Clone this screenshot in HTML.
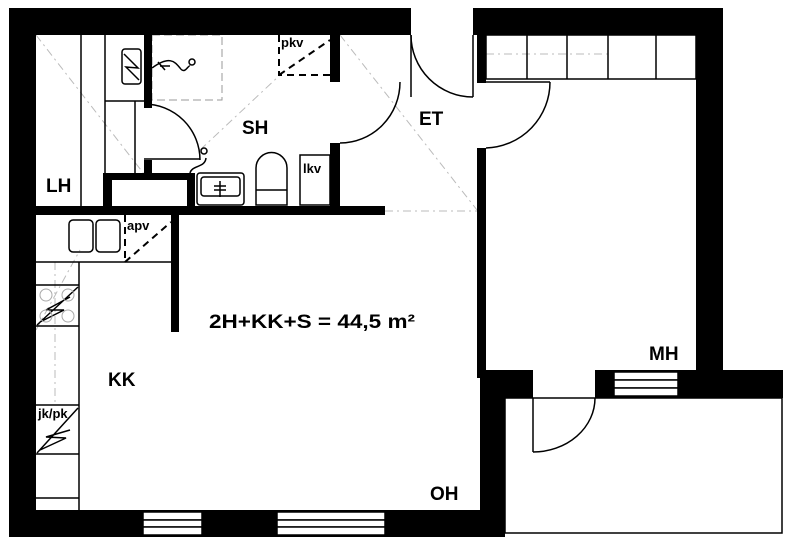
<!DOCTYPE html>
<html><head><meta charset="utf-8"><style>html,body{margin:0;padding:0;background:#fff}svg{display:block}</style></head><body>
<svg width="795" height="545" viewBox="0 0 795 545" xmlns="http://www.w3.org/2000/svg" font-family="Liberation Sans, sans-serif" font-weight="bold">
<rect width="795" height="545" fill="#fff"/>
<!-- light dash lines -->
<g stroke="#bbb" stroke-width="1" stroke-dasharray="8,4,2,4" fill="none">
<line x1="36" y1="35" x2="172" y2="210"/>
<line x1="200" y1="150" x2="280" y2="75"/>
<line x1="340" y1="35" x2="477" y2="210"/>
<line x1="385" y1="211" x2="477" y2="211"/>
<line x1="36" y1="330" x2="80" y2="250"/>
<line x1="55" y1="262" x2="55" y2="405"/>
<line x1="486" y1="54" x2="608" y2="54"/>
</g>
<g stroke="#999" stroke-width="1" stroke-dasharray="8,4" fill="none">
<rect x="152" y="35" width="70" height="65"/>
</g>
<!-- walls -->
<g fill="#000">
<rect x="9" y="8" width="402" height="27"/>
<rect x="473" y="8" width="250" height="27"/>
<rect x="9" y="8" width="27" height="529"/>
<rect x="696" y="8" width="27" height="362"/>
<rect x="9" y="510" width="496" height="27"/>
<rect x="477" y="35" width="9" height="48"/>
<rect x="477" y="148" width="9" height="230"/>
<rect x="480" y="370" width="53" height="28"/>
<rect x="480" y="370" width="25" height="167"/>
<rect x="595" y="370" width="188" height="28"/>
<rect x="36" y="206" width="349" height="9"/>
<rect x="171" y="215" width="8" height="117"/>
<rect x="144" y="35" width="8" height="73"/>
<rect x="144" y="160" width="8" height="14"/>
<rect x="103" y="173" width="92" height="39"/>
<rect x="330" y="35" width="10" height="47"/>
<rect x="330" y="143" width="10" height="64"/>
</g>
<rect x="112" y="180" width="75" height="26" fill="#fff"/>
<!-- windows -->
<g fill="#fff" stroke="#000" stroke-width="1.5">
<rect x="143" y="512" width="59" height="8"/><rect x="143" y="520" width="59" height="7"/><rect x="143" y="527" width="59" height="8"/>
<rect x="277" y="512" width="108" height="8"/><rect x="277" y="520" width="108" height="7"/><rect x="277" y="527" width="108" height="8"/>
<rect x="614" y="372" width="64" height="8"/><rect x="614" y="380" width="64" height="8"/><rect x="614" y="388" width="64" height="8"/>
</g>
<g fill="none" stroke="#000" stroke-width="1.5">
<line x1="411" y1="35" x2="411" y2="97"/>
<path d="M411 35 A62 62 0 0 0 473 97"/>
<line x1="473" y1="35" x2="473" y2="97"/>
<line x1="486" y1="82" x2="550" y2="82"/>
<path d="M550 82 A66 66 0 0 1 486 148"/>
<rect x="486" y="35" width="210" height="44"/>
<line x1="527" y1="35" x2="527" y2="79"/><line x1="567" y1="35" x2="567" y2="79"/><line x1="608" y1="35" x2="608" y2="79"/><line x1="656" y1="35" x2="656" y2="79"/>
<rect x="505" y="398" width="277" height="135"/>
<line x1="533" y1="398" x2="533" y2="452"/>
<path d="M533 452 A62 54 0 0 0 595 398"/>
<path d="M400 82 A60 61 0 0 1 340 143"/>
<line x1="81" y1="35" x2="81" y2="206"/>
<line x1="105" y1="35" x2="105" y2="173"/>
<line x1="105" y1="101" x2="144" y2="101"/>
<line x1="135" y1="101" x2="135" y2="173"/>
<rect x="122" y="49" width="19" height="35" rx="3"/>
<path d="M124 54 L138 68 L126 67 L139 80"/>
<path d="M152 68 C170 55 175 62 180 68 C185 75 188 65 190 66"/>
<circle cx="192" cy="62" r="3"/>
<line x1="158" y1="62" x2="165" y2="70"/><line x1="160" y1="66" x2="170" y2="66"/>
<path d="M144 104 A56 56 0 0 1 200 160"/>
<line x1="144" y1="159" x2="200" y2="159"/>
<path d="M190 173 C192 165 205 168 206 158"/><circle cx="204" cy="151" r="3"/>
<rect x="197" y="173" width="47" height="32" rx="3"/>
<rect x="201" y="177" width="39" height="19" rx="3"/>
<line x1="220" y1="181" x2="220" y2="197"/><line x1="214" y1="186" x2="226" y2="186"/><line x1="214" y1="190" x2="226" y2="190"/>
<path d="M256 205 V168 A15.5 15.5 0 0 1 287 168 V205 Z"/>
<line x1="256" y1="190" x2="287" y2="190"/>
<rect x="300" y="155" width="30" height="50"/>
<line x1="36" y1="262" x2="171" y2="262"/>
<line x1="79" y1="262" x2="79" y2="510"/>
<rect x="69" y="220" width="24" height="32" rx="4"/>
<rect x="96" y="220" width="24" height="32" rx="4"/>
<line x1="36" y1="285" x2="79" y2="285"/><line x1="36" y1="326" x2="79" y2="326"/>
<line x1="36" y1="405" x2="79" y2="405"/><line x1="36" y1="454" x2="79" y2="454"/>
<line x1="36" y1="498" x2="79" y2="498"/>
<path d="M37 325 L78 287 M70 297 L46 310 L64 310 L40 322"/>
<path d="M37 453 L78 408 M70 430 L46 437 L66 438 L40 450"/>
</g>
<g fill="none" stroke="#aaa" stroke-width="1">
<circle cx="46" cy="295" r="6"/><circle cx="68" cy="295" r="6"/><circle cx="46" cy="316" r="6"/><circle cx="68" cy="316" r="6"/>
</g>
<g fill="none" stroke="#000" stroke-width="2" stroke-dasharray="7,5">
<path d="M279 35 V75 H330"/><line x1="279" y1="75" x2="330" y2="40"/>
<path d="M125 215 V262"/><line x1="125" y1="262" x2="171" y2="222"/>
</g>
<g font-size="13" fill="#000">
<text x="281" y="47">pkv</text><text x="303" y="173">lkv</text><text x="127" y="230">apv</text><text x="38" y="418">jk/pk</text>
</g>
<g font-size="19" fill="#000">
<text x="46" y="192">LH</text><text x="242" y="134">SH</text><text x="419" y="125">ET</text>
<text x="108" y="386">KK</text><text x="649" y="360">MH</text><text x="430" y="500">OH</text>
<text x="209" y="328" textLength="206" lengthAdjust="spacingAndGlyphs">2H+KK+S = 44,5 m²</text>
</g>
</svg>
</body></html>
